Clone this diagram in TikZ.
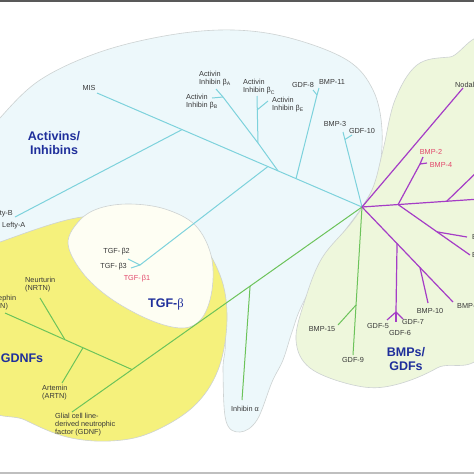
\documentclass[tikz,border=0pt]{standalone}
\usepackage{fontspec}
\setmainfont{Liberation Sans}
\newfontfamily\greekserif{Liberation Serif}
\usepackage{tikz}
\usetikzlibrary{calc}

\definecolor{actfill}{HTML}{EDF8FB}
\definecolor{gdnffill}{HTML}{F5F17C}
\definecolor{tgffill}{HTML}{FEFEF3}
\definecolor{bmpfill}{HTML}{EEF7DC}
\definecolor{rim}{HTML}{CDD2D2}
\definecolor{cyanbr}{HTML}{7DD2DC}
\definecolor{greenbr}{HTML}{6CC35A}
\definecolor{purplebr}{HTML}{A53DC6}
\definecolor{labeltext}{HTML}{383838}
\definecolor{grouptext}{HTML}{1F2F9B}
\definecolor{redlabel}{HTML}{E2466A}

\begin{document}
\begin{tikzpicture}[x=1pt,y=-1pt,
    lbl/.style={font=\fontsize{7.3}{8}\selectfont, text=labeltext, inner sep=0pt, align=left},
    grp/.style={font=\fontsize{12.5}{13.5}\selectfont\bfseries, text=grouptext, inner sep=0pt, align=center},
    region/.style={draw=rim, line width=0.6pt},
    cyanline/.style={draw=cyanbr, line width=1pt},
    greenline/.style={draw=greenbr, line width=1pt},
    purpleline/.style={draw=purplebr, line width=1.2pt}]
    \useasboundingbox (0,0) rectangle (474,474);
    \clip (0,0) rectangle (474,474);
    \fill[white] (0,0) rectangle (474,474);

    % Group regions
    \filldraw[region, fill=actfill] plot[smooth cycle, tension=0.6] coordinates {
        (-15,140) (0,118) (40,80) (100,52) (170,35) (233,30) (290,38) (347,60)
        (373,90) (382,130) (378,175) (362,207) (335,245) (303,303) (292,332)
        (283,360) (272,382) (257,420) (240,432) (226,421) (223,370) (224,330)
        (200,240) (100,228) (-15,250)};
    \filldraw[region, fill=gdnffill] plot[smooth cycle, tension=0.6] coordinates {
        (-20,252) (0,242) (82,217) (140,225) (195,240) (220,275) (227,320)
        (218,370) (193,407) (150,433) (110,441) (67,437) (25,420) (-20,395)};
    \filldraw[region, fill=tgffill] plot[smooth cycle, tension=0.6] coordinates {
        (68,243) (80,220) (100,208) (130,204) (165,209) (195,225) (211,255)
        (212,290) (202,318) (183,328) (150,320) (110,298) (82,272)};
    \filldraw[region, fill=bmpfill] plot[smooth cycle, tension=0.6] coordinates {
        (490,58) (450,57) (417,65) (395,100) (383,150) (372,190) (352,222)
        (322,258) (305,300) (296,340) (310,368) (353,385) (390,386) (437,368)
        (490,330)};

    % Branch points
    \coordinate (hub) at (362,207);
    \coordinate (mis) at (97,93);
    \coordinate (leftyfork) at ($(mis)!0.321!(hub)$);
    \coordinate (tgffork) at ($(mis)!0.645!(hub)$);
    \coordinate (actfork) at ($(mis)!0.683!(hub)$);
    \coordinate (gdf8fork) at ($(mis)!0.751!(hub)$);

    % Activin / inhibin branch (cyan)
    \coordinate (leftyend) at (15,217);
    \coordinate (tgfend) at (140,265);
    \coordinate (tgfb2end) at (128,259);
    \coordinate (tgfb3end) at (131,268);
    \coordinate (actc) at (258,143);
    \coordinate (actcend) at (257,96);
    \coordinate (acte) at (257,110);
    \coordinate (acteend) at (268,101);
    \coordinate (acta) at (223,97);
    \coordinate (actaend) at (216,89);
    \coordinate (actbend) at (212,98);
    \coordinate (gdf8top) at (317,95);
    \coordinate (bmp11end) at (319,88);
    \coordinate (gdf8end) at (313,90);
    \coordinate (bmp3end) at (343,132);
    \coordinate (gdf10fork) at ($(hub)!0.9!(bmp3end)$);
    \coordinate (gdf10end) at (352,135);

    \draw[cyanline] (mis) -- (hub);
    \draw[cyanline] (leftyfork) -- (leftyend);
    \draw[cyanline] (tgffork) -- (tgfend);
    \draw[cyanline] (tgfend) -- (tgfb2end);
    \draw[cyanline] (tgfend) -- (tgfb3end);
    \draw[cyanline] (actfork) -- (actc) -- (actcend);
    \draw[cyanline] (acte) -- (acteend);
    \draw[cyanline] (actc) -- (acta) -- (actaend);
    \draw[cyanline] (acta) -- (actbend);
    \draw[cyanline] (gdf8fork) -- (gdf8top) -- (bmp11end);
    \draw[cyanline] (gdf8top) -- (gdf8end);
    \draw[cyanline] (hub) -- (bmp3end);
    \draw[cyanline] (gdf10fork) -- (gdf10end);

    % GDNF branch (green)
    \coordinate (gdnfend) at (72,412);
    \coordinate (inhfork) at ($(hub)!0.386!(gdnfend)$);
    \coordinate (inhend) at (242,400);
    \coordinate (gdnffork) at ($(hub)!0.793!(gdnfend)$);
    \coordinate (pspnend) at (5,313);
    \coordinate (nrtnfork) at ($(gdnffork)!0.528!(pspnend)$);
    \coordinate (artnfork) at ($(gdnffork)!0.386!(pspnend)$);
    \coordinate (nrtnend) at (40,298);
    \coordinate (artnend) at (62,383);
    \coordinate (gdf9end) at (353,355);
    \coordinate (bmp15fork) at ($(hub)!0.662!(gdf9end)$);
    \coordinate (bmp15end) at (338,325);

    \draw[greenline] (hub) -- (gdnfend);
    \draw[greenline] (inhfork) -- (inhend);
    \draw[greenline] (gdnffork) -- (pspnend);
    \draw[greenline] (nrtnfork) -- (nrtnend);
    \draw[greenline] (artnfork) -- (artnend);
    \draw[greenline] (hub) -- (gdf9end);
    \draw[greenline] (bmp15fork) -- (bmp15end);

    % BMP / GDF branch (purple)
    \coordinate (rightend) at (480,199);
    \coordinate (bmp2fork) at ($(hub)!0.306!(rightend)$);
    \coordinate (bmp7fork) at ($(hub)!0.718!(rightend)$);
    \coordinate (bmp7end) at (480,169);
    \coordinate (nodalend) at (463,88);
    \coordinate (bmp24fork) at (420,164);
    \coordinate (bmp2end) at (423,157);
    \coordinate (bmp4end) at (427,163);
    \coordinate (bmp6end) at (470,255);
    \coordinate (bmp5fork) at ($(bmp2fork)!0.542!(bmp6end)$);
    \coordinate (bmp5end) at (467,237);
    \coordinate (bmp9end) at (453,302);
    \coordinate (gdffork) at ($(hub)!0.385!(bmp9end)$);
    \coordinate (bmp10fork) at ($(hub)!0.637!(bmp9end)$);
    \coordinate (gdf567) at (396,312);
    \coordinate (gdf5end) at (387,320);
    \coordinate (gdf6end) at (396,322);
    \coordinate (gdf7end) at (403,319);
    \coordinate (bmp10end) at (428,303);

    \draw[purpleline] (hub) -- (rightend);
    \draw[purpleline] (bmp7fork) -- (bmp7end);
    \draw[purpleline] (hub) -- (nodalend);
    \draw[purpleline] (bmp2fork) -- (bmp24fork) -- (bmp2end);
    \draw[purpleline] (bmp24fork) -- (bmp4end);
    \draw[purpleline] (bmp2fork) -- (bmp6end);
    \draw[purpleline] (bmp5fork) -- (bmp5end);
    \draw[purpleline] (hub) -- (bmp9end);
    \draw[purpleline] (gdffork) -- (gdf567);
    \draw[purpleline] (gdf567) -- (gdf5end);
    \draw[purpleline] (gdf567) -- (gdf6end);
    \draw[purpleline] (gdf567) -- (gdf7end);
    \draw[purpleline] (bmp10fork) -- (bmp10end);

    % Member labels
    \node[lbl] (mislabel) at (89,88) {MIS};
    \node[lbl, anchor=east] (leftyb) at (13,214) {Lefty-B};
    \node[lbl, anchor=west] (leftya) at (2,226) {Lefty-A};
    \node[lbl, anchor=west] (actalabel) at (199,79) {Activin\\Inhibin β\textsubscript{A}};
    \node[lbl, anchor=west] (actblabel) at (186,102) {Activin\\Inhibin β\textsubscript{B}};
    \node[lbl, anchor=west] (actclabel) at (243,87) {Activin\\Inhibin β\textsubscript{C}};
    \node[lbl, anchor=west] (actelabel) at (272,105) {Activin\\Inhibin β\textsubscript{E}};
    \node[lbl] (gdf8label) at (303,85) {GDF-8};
    \node[lbl] (bmp11label) at (332,82) {BMP-11};
    \node[lbl] (bmp3label) at (335,124) {BMP-3};
    \node[lbl] (gdf10label) at (362,131) {GDF-10};
    \node[lbl, anchor=east] (tgfb2label) at (130,252) {TGF-\,β2};
    \node[lbl, anchor=east] (tgfb3label) at (127,267) {TGF-\,β3};
    \node[lbl, text=redlabel] (tgfb1label) at (137,279) {TGF-\,β1};
    \node[lbl, anchor=west] (nodallabel) at (455,85) {Nodal};
    \node[lbl, text=redlabel] (bmp2label) at (431,152) {BMP-2};
    \node[lbl, text=redlabel] (bmp4label) at (441,165) {BMP-4};
    \node[lbl, anchor=west] (bmp5label) at (472,237) {BMP-5};
    \node[lbl, anchor=west] (bmp6label) at (472,255) {BMP-6};
    \node[lbl, anchor=west] (bmp9label) at (457,306) {BMP-9};
    \node[lbl] (bmp10label) at (430,311) {BMP-10};
    \node[lbl] (gdf5label) at (378,326) {GDF-5};
    \node[lbl] (gdf6label) at (400,333) {GDF-6};
    \node[lbl] (gdf7label) at (413,322) {GDF-7};
    \node[lbl] (bmp15label) at (322,329) {BMP-15};
    \node[lbl] (gdf9label) at (353,360) {GDF-9};
    \node[lbl] (inhlabel) at (245,409) {Inhibin α};
    \node[lbl, anchor=west] (nrtnlabel) at (25,285) {Neurturin\\(NRTN)};
    \node[lbl, anchor=west] (pspnlabel) at (-17,303) {Persephin\\(PSPN)};
    \node[lbl, anchor=west] (artnlabel) at (42,393) {Artemin\\(ARTN)};
    \node[lbl, anchor=west] (gdnflabel) at (55,425) {Glial cell line-\\derived neutrophic\\factor (GDNF)};

    % Group labels
    \node[grp] (actgroup) at (54,143) {Activins/\\Inhibins};
    \node[grp] (tgfgroup) at (166,304) {TGF-{\greekserif\mdseries β}};
    \node[grp] (gdnfgroup) at (22,358) {GDNFs};
    \node[grp] (bmpgroup) at (406,359) {BMPs/\\GDFs};

    % Frame bars
    \fill[black!65] (0,0) rectangle (474,1.5);
    \fill[black!25] (0,471.5) rectangle (474,474);
\end{tikzpicture}
\end{document}
